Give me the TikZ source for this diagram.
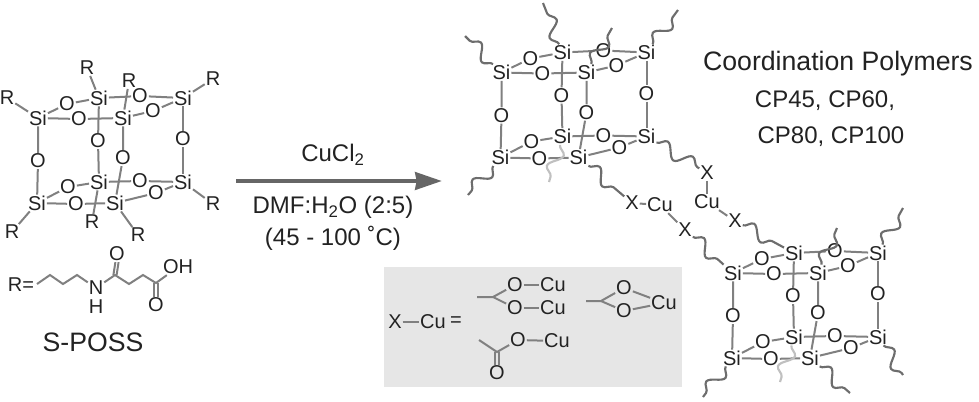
\documentclass[tikz,border=0pt]{standalone}
\usepackage{fontspec}
\setmainfont{Liberation Sans}
\usetikzlibrary{arrows.meta,decorations.pathmorphing}
\definecolor{bondgray}{HTML}{808080}
\definecolor{inkgray}{HTML}{222222}
\definecolor{boxgray}{HTML}{E6E6E6}
\tikzset{
	atm/.style={inner sep=0.6pt, text=inkgray, font=\fontsize{15}{16}\selectfont},
	txt/.style={inner sep=0pt, text=inkgray, font=\fontsize{18}{19}\selectfont},
	bond/.style={line width=1.5pt, bondgray},
	wavy/.style={line width=1.6pt, bondgray!85!black, decorate, decoration={snake, segment length=22pt, amplitude=5pt}},
	cage/.pic={
		\node [atm] (-A) at (99,98) {Si};
		\node [atm] (-B) at (38,118) {Si};
		\node [atm] (-C) at (123,118) {Si};
		\node [atm] (-D) at (183,98) {Si};
		\node [atm] (-E) at (99,182) {Si};
		\node [atm] (-F) at (37,203) {Si};
		\node [atm] (-G) at (115,203) {Si};
		\node [atm] (-H) at (183,182) {Si};
		\node [atm] (-o1) at (67,104) {O};
		\node [atm] (-o2) at (79,119) {O};
		\node [atm] (-o3) at (140,96) {O};
		\node [atm] (-o4) at (153,111) {O};
		\node [atm] (-o5) at (98,141) {O};
		\node [atm] (-o6) at (123,158) {O};
		\node [atm] (-o7) at (183,139) {O};
		\node [atm] (-o8) at (38,161) {O};
		\node [atm] (-o9) at (68,187) {O};
		\node [atm] (-o10) at (76,204) {O};
		\node [atm] (-o11) at (140,181) {O};
		\node [atm] (-o12) at (156,193) {O};
		\draw [bond] (-A) -- (-o1) (-o1) -- (-B);
		\draw [bond] (-B) -- (-o2) (-o2) -- (-C);
		\draw [bond] (-A) -- (-o3) (-o3) -- (-D);
		\draw [bond] (-C) -- (-o4) (-o4) -- (-D);
		\draw [bond] (-A) -- (-o5) (-o5) -- (-E);
		\draw [bond] (-C) -- (-o6) (-o6) -- (-G);
		\draw [bond] (-D) -- (-o7) (-o7) -- (-H);
		\draw [bond] (-B) -- (-o8) (-o8) -- (-F);
		\draw [bond] (-E) -- (-o9) (-o9) -- (-F);
		\draw [bond] (-F) -- (-o10) (-o10) -- (-G);
		\draw [bond] (-E) -- (-o11) (-o11) -- (-H);
		\draw [bond] (-G) -- (-o12) (-o12) -- (-H);
	}
}
\begin{document}
\begin{tikzpicture}[x=0.75pt,y=-0.75pt]
	\useasboundingbox (0,0) rectangle (979,401);
	% left cage
	\pic (L) at (0,0) {cage};
	\node [atm] (r1) at (87,68) {R};
	\node [atm] (r2) at (129,81) {R};
	\node [atm] (r3) at (213,79) {R};
	\node [atm] (r4) at (7,98) {R};
	\node [atm] (r5) at (213,204) {R};
	\node [atm] (r6) at (138,235) {R};
	\node [atm] (r7) at (92,222) {R};
	\node [atm] (r8) at (12,232) {R};
	\draw [bond] (L-A) -- (r1);
	\draw [bond] (L-C) -- (r2);
	\draw [bond] (L-D) -- (r3);
	\draw [bond] (L-B) -- (r4);
	\draw [bond] (L-H) -- (r5);
	\draw [bond] (L-G) -- (r6);
	\draw [bond] (L-E) -- (r7);
	\draw [bond] (L-F) -- (r8);
	% side chain
	\node [atm,anchor=east] (req) at (35,285) {R=};
	\coordinate (c1) at (37,284);
	\coordinate (c2) at (50,275);
	\coordinate (c3) at (63,284);
	\coordinate (c4) at (77,275);
	\node [atm] (nn) at (96,288) {N};
	\node [atm] (nh) at (96,307) {H};
	\coordinate (c6) at (115,275);
	\coordinate (c7) at (129,284);
	\coordinate (c8) at (143,275);
	\coordinate (c9) at (156,283);
	\node [atm] (oa) at (117,254) {O};
	\node [atm] (ob) at (156,305) {O};
	\node [atm] (oh) at (178,267) {OH};
	\draw [bond] (c1) -- (c2) -- (c3) -- (c4) -- (nn);
	\draw [bond] (nn) -- (c6) -- (c7) -- (c8) -- (c9) -- (oh);
	\draw [bond] ([xshift=-1.2pt]c6) -- ([xshift=-1.2pt]oa.south);
	\draw [bond] ([xshift=1.2pt]c6) -- ([xshift=1.2pt]oa.south);
	\draw [bond] ([xshift=-1.2pt]c9) -- ([xshift=-1.2pt]ob.north);
	\draw [bond] ([xshift=1.2pt]c9) -- ([xshift=1.2pt]ob.north);
	\node [txt,font=\fontsize{20}{22}\selectfont] (sposs) at (93,342) {S-POSS};
	% reaction
	\node [txt] (cucl) at (333,155) {CuCl\textsubscript{2}};
	\node [txt] (cond) at (333,207) {DMF:H\textsubscript{2}O (2:5)};
	\node [txt] (temp) at (333,238) {(45 - 100 ˚C)};
	\coordinate (arrs) at (236,181);
	\coordinate (arre) at (442,181);
	\draw [line width=3.4pt, color=black!60, -{Stealth[length=20pt,width=13pt,inset=1pt]}] (arrs) -- (arre);
	\node [txt,font=\fontsize{20}{22}\selectfont] (title) at (838,64) {Coordination Polymers};
	\node [txt] (cpa) at (825,101) {CP45, CP60,};
	\node [txt] (cpb) at (831,137) {CP80, CP100};
	% top cage
	\pic (T) at (463.5,-45.5) {cage};
	\draw [wavy] (T-B) -- (465,36) coordinate (t1);
	\draw [wavy] (T-A) -- (543,3) coordinate (t2);
	\draw [wavy] (T-C) -- (612,28) coordinate (t3);
	\draw [wavy] (T-D) -- (678,10) coordinate (t4);
	\draw [wavy] (T-F) -- (468,195) coordinate (t5);
	\draw [wavy, bondgray!50] (T-E) -- (549,182) coordinate (t6);
	% bottom cage
	\pic (U) at (695,155) {cage};
	\draw [wavy] (U-C) -- (837,228) coordinate (u1);
	\draw [wavy] (U-D) -- (903,208) coordinate (u2);
	\draw [wavy] (U-H) -- (903,375) coordinate (u3);
	\draw [wavy] (U-G) -- (850,393) coordinate (u4);
	\draw [wavy] (U-F) -- (703,397) coordinate (u5);
	\draw [wavy, bondgray!50] (U-E) -- (780,382) coordinate (u6);
	% links
	\node [atm] (x1) at (707,173) {X};
	\node [atm] (cu1) at (707,202) {Cu};
	\node [atm] (x2) at (735,221) {X};
	\node [atm] (x3) at (632,203) {X};
	\node [atm] (cu2) at (660,205) {Cu};
	\node [atm] (x4) at (685,230) {X};
	\draw [wavy] (T-H) -- (x1);
	\draw [bond] (x1) -- (cu1);
	\draw [bond] (cu1) -- (x2);
	\draw [wavy] (x2) -- (U-A);
	\draw [wavy] (T-G) -- (x3);
	\draw [bond] (x3) -- (cu2);
	\draw [bond] (cu2) -- (x4);
	\draw [wavy] (x4) -- (U-B);
	% legend
	\node [fill=boxgray, minimum width=223.5pt, minimum height=90pt, inner sep=0pt] (legend) at (533,327) {};
	\node [atm] (lx) at (395,322) {X};
	\node [atm] (lcu) at (433,322) {Cu};
	\node [atm] (leq) at (456,322) {=};
	\draw [bond] (lx) -- (lcu);
	\coordinate (a1) at (477,297);
	\coordinate (a2) at (493,297);
	\node [atm] (ao1) at (515,285) {O};
	\node [atm] (ao2) at (515,308) {O};
	\node [atm] (acu1) at (553,285) {Cu};
	\node [atm] (acu2) at (553,308) {Cu};
	\draw [bond] (a1) -- (a2) -- (ao1);
	\draw [bond] (a2) -- (ao2);
	\draw [bond] (ao1) -- (acu1);
	\draw [bond] (ao2) -- (acu2);
	\coordinate (b1) at (586,301);
	\coordinate (b2) at (601,301);
	\node [atm] (bo1) at (624,288) {O};
	\node [atm] (bo2) at (624,311) {O};
	\node [atm] (bcu) at (664,303) {Cu};
	\draw [bond] (b1) -- (b2) -- (bo1);
	\draw [bond] (b2) -- (bo2);
	\draw [bond] (bo1) -- (bcu);
	\draw [bond] (bo2) -- (bcu);
	\coordinate (d1) at (479,340);
	\coordinate (d2) at (497,352);
	\node [atm] (do1) at (497,373) {O};
	\node [atm] (do2) at (518,340) {O};
	\node [atm] (dcu) at (557,341) {Cu};
	\draw [bond] (d1) -- (d2) -- (do2);
	\draw [bond] (do2) -- (dcu);
	\draw [bond] ([xshift=-1.2pt]d2) -- ([xshift=-1.2pt]do1.north);
	\draw [bond] ([xshift=1.2pt]d2) -- ([xshift=1.2pt]do1.north);
\end{tikzpicture}
\end{document}
